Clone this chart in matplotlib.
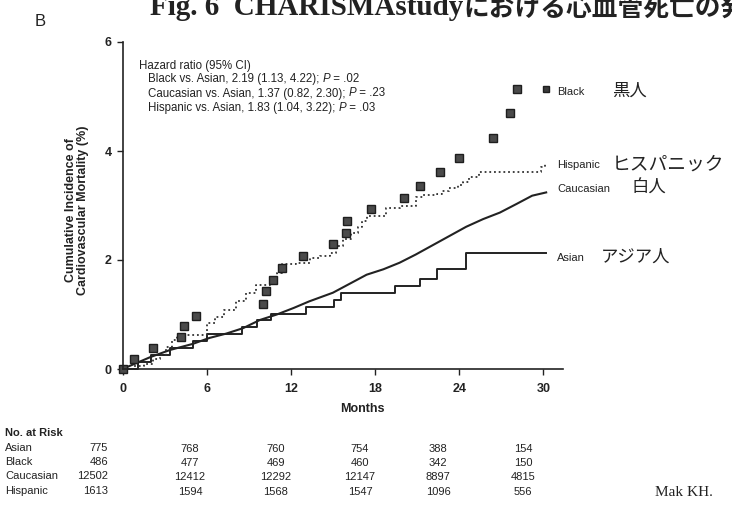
import matplotlib
matplotlib.use("Agg")
import matplotlib.pyplot as plt

plt.rcParams['font.family'] = ['Liberation Sans', 'Noto Sans CJK JP']

# ---------------- data ----------------
asian_t = [0, 1.1, 2.0, 3.4, 5.0, 6.0, 8.5, 9.6, 10.6, 13.1, 15.1, 15.6, 19.4, 21.2, 22.4, 24.5, 30.2]
asian_v = [0, 0.13, 0.26, 0.39, 0.52, 0.64, 0.77, 0.90, 1.01, 1.14, 1.26, 1.40, 1.53, 1.65, 1.84, 2.12, 2.12]

cauc_t = [0, 2.0, 3.4, 5.0, 6.2, 7.4, 8.6, 9.8, 11.0, 12.2, 13.3, 15.0, 17.4, 18.6, 19.75, 20.9,
          22.1, 23.3, 24.5, 25.7, 26.9, 28.1, 29.2, 30.2]
cauc_v = [0, 0.22, 0.35, 0.46, 0.57, 0.65, 0.75, 0.90, 1.00, 1.12, 1.24, 1.40, 1.73, 1.83, 1.95, 2.10,
          2.27, 2.44, 2.61, 2.75, 2.87, 3.03, 3.18, 3.24]

hisp_t = [0, 0.8, 1.5, 2.2, 2.67, 3.1, 3.5, 3.9, 6.0, 6.6, 7.2, 8.1, 8.8, 9.55, 10.5, 11.0, 11.4,
          12.4, 13.35, 14.05, 14.8, 15.2, 15.7, 16.3, 16.8, 17.1, 17.4, 18.8, 19.75, 20.9, 21.4,
          22.4, 22.8, 23.3, 23.9, 24.3, 24.7, 25.4, 29.8, 30.1]
hisp_v = [0, 0.06, 0.09, 0.18, 0.26, 0.41, 0.53, 0.63, 0.84, 0.96, 1.09, 1.24, 1.40, 1.55, 1.59,
          1.77, 1.92, 1.95, 2.04, 2.07, 2.12, 2.26, 2.38, 2.49, 2.60, 2.72, 2.81, 2.96, 3.00, 3.15,
          3.19, 3.21, 3.27, 3.33, 3.37, 3.44, 3.52, 3.61, 3.70, 3.78]

black_t = [0, 0.82, 2.15, 4.14, 4.38, 5.23, 9.98, 10.26, 10.7, 11.4, 12.9, 15.0, 15.96, 16.0,
           17.7, 20.1, 21.2, 22.6, 24.0, 26.4, 27.6, 28.1]
black_v = [0, 0.19, 0.38, 0.58, 0.78, 0.98, 1.20, 1.43, 1.64, 1.86, 2.07, 2.29, 2.50, 2.71,
           2.94, 3.14, 3.35, 3.61, 3.87, 4.24, 4.70, 5.13]

x_ticks = [0, 6, 12, 18, 24, 30]
y_ticks = [0, 2, 4, 6]

risk_groups = ['Asian', 'Black', 'Caucasian', 'Hispanic']
risk_asian = [775, 768, 760, 754, 388, 154]
risk_black = [486, 477, 469, 460, 342, 150]
risk_cauc = [12502, 12412, 12292, 12147, 8897, 4815]
risk_hisp = [1613, 1594, 1568, 1547, 1096, 556]
risk_rows = [risk_asian, risk_black, risk_cauc, risk_hisp]

hr_title = 'Hazard ratio (95% CI)'
hr_comparisons = ['Black vs. Asian, 2.19 (1.13, 4.22); ',
                  'Caucasian vs. Asian, 1.37 (0.82, 2.30); ',
                  'Hispanic vs. Asian, 1.83 (1.04, 3.22); ']
hr_pvalues = [' = .02', ' = .23', ' = .03']

# ---------------- figure ----------------
W, H = 732, 508
fig = plt.figure(figsize=(W / 100, H / 100), dpi=100)
renderer = fig.canvas.get_renderer()

def fx(x):
    return x / W

def fy(y):
    return 1 - y / H

def text_right_px(t):
    bb = t.get_window_extent(renderer=renderer)
    return bb.x1

ax = fig.add_axes([fx(122.5), fy(369), fx(563) - fx(122.5), fy(42) - fy(369)])
ink = '#222222'

ax.plot(asian_t, asian_v, drawstyle='steps-post', color=ink, lw=1.4, clip_on=False)
ax.plot(cauc_t, cauc_v, color=ink, lw=1.5, clip_on=False)
ax.plot(hisp_t, hisp_v, drawstyle='steps-post', color='#333333', lw=1.3,
        ls=(0, (1, 1.6)), clip_on=False)
ax.plot(black_t, black_v, 's', ms=6, mfc='#4a4a4a', mec='#1e1e1e', mew=1.0, clip_on=False)

ax.set_xlim(0, 31.4)
ax.set_ylim(0, 6)
ax.set_xticks(x_ticks)
ax.set_yticks(y_ticks)
for s in ['top', 'right']:
    ax.spines[s].set_visible(False)
for s in ['left', 'bottom']:
    ax.spines[s].set_color(ink)
    ax.spines[s].set_linewidth(1.2)
ax.tick_params(axis='x', direction='out', length=4, width=1, pad=6, labelsize=9, colors=ink)
ax.tick_params(axis='y', direction='out', length=4, width=1, pad=4, labelsize=9, colors=ink)
for lab in ax.get_xticklabels() + ax.get_yticklabels():
    lab.set_fontweight('bold')

# axis labels
fig.text(fx(362), fy(409), 'Months', ha='center', va='center', fontsize=9,
         fontweight='bold', color=ink)
fig.text(fx(77), fy(210), 'Cumulative Incidence of\nCardiovascular Mortality (%)',
         rotation=90, ha='center', va='center', multialignment='center',
         fontsize=9, fontweight='bold', color=ink, linespacing=1.05)

# hazard ratio block (plain + italic P pieces)
hr_fs = 8.3
fig.text(fx(139), fy(68.5), hr_title, ha='left', va='baseline', fontsize=hr_fs, color=ink)
base_y = [82.5, 96.5, 110.5]
for comp, pv, yb in zip(hr_comparisons, hr_pvalues, base_y):
    t1 = fig.text(fx(148), fy(yb), comp, ha='left', va='baseline', fontsize=hr_fs, color=ink)
    x1 = text_right_px(t1)
    t2 = fig.text(x1 / W, fy(yb), 'P', ha='left', va='baseline', fontsize=hr_fs,
                  style='italic', color=ink)
    x2 = text_right_px(t2)
    fig.text(x2 / W, fy(yb), pv, ha='left', va='baseline', fontsize=hr_fs, color=ink)

# right-side series labels
ax.plot([30.2], [5.13], 's', ms=5, mfc='#3a3a3a', mec='#1e1e1e', clip_on=False)
en_labels = ['Black', 'Hispanic', 'Caucasian', 'Asian']
jp_labels = ['黒人', 'ヒスパニック', '白人', 'アジア人']
lab_y = [92, 165, 189, 258]
jp_x = [612, 612, 632, 601]
jp_size = [12.5, 13.5, 12.5, 12.5]
for en, jp, y, xj, sz in zip(en_labels, jp_labels, lab_y, jp_x, jp_size):
    fig.text(fx(557), fy(y), en, ha='left', va='center', fontsize=8, color=ink)
    fig.text(fx(xj), fy(y - 1), jp, ha='left', va='center', fontsize=sz,
             family=['Noto Sans CJK JP'], color=ink)

# panel letter and title (title is cropped at the top edge in the source)
fig.text(fx(35), fy(21), 'B', ha='left', va='center', fontsize=12, color=ink)
fig.text(fx(150), fy(15), 'Fig. 6  CHARISMAstudy', ha='left', va='baseline',
         fontsize=21, fontweight='bold', family=['Liberation Serif'], color=ink)
fig.text(fx(463), fy(16), 'における心血管死亡の発生', ha='left', va='baseline',
         fontsize=18.5, fontweight='bold', family=['Noto Sans CJK JP'], color=ink)

# number at risk table
fig.text(fx(5), fy(433), 'No. at Risk', ha='left', va='center', fontsize=8,
         fontweight='bold', color=ink)
row_y = [448, 462, 476, 491]
col_x = [190, 276, 360, 438, 523]
for g, row, y in zip(risk_groups, risk_rows, row_y):
    fig.text(fx(5), fy(y), g, ha='left', va='center', fontsize=8, color=ink)
    fig.text(fx(108), fy(y), str(row[0]), ha='right', va='center', fontsize=8, color=ink)
    for v, x in zip(row[1:], col_x):
        fig.text(fx(x), fy(y + 1), str(v), ha='center', va='center', fontsize=8, color=ink)

fig.text(fx(655), fy(492), 'Mak KH.', ha='left', va='center', fontsize=11,
         family=['Liberation Serif'], color=ink)

fig.savefig('out.png', dpi=100)
